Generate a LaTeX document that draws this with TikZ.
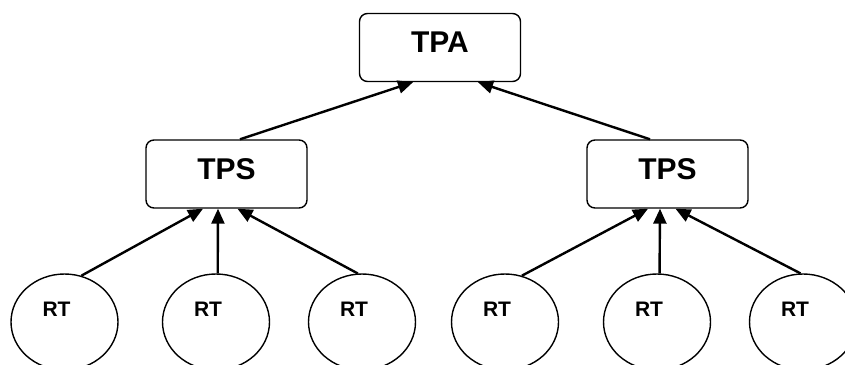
\documentclass[tikz,border=0pt]{standalone}
\usepackage{fontspec}
\setmainfont{Liberation Sans}
\usetikzlibrary{arrows.meta,shapes.geometric}

\begin{document}
\begin{tikzpicture}[x=1pt,y=1pt,
  box/.style={draw,line width=1.4pt,rounded corners=8pt,minimum width=161pt,
    minimum height=68pt,text depth=10pt,font=\fontsize{30}{30}\selectfont\bfseries},
  rt/.style={draw,ellipse,line width=1.4pt,minimum width=107pt,minimum height=96pt,
    inner sep=0pt,
    label={[font=\fontsize{21}{21}\selectfont\bfseries,shift={(-8pt,13pt)}]center:RT}},
  link/.style={-{Triangle[length=15pt,width=13pt]},line width=2.4pt}]
  \useasboundingbox (0,0) rectangle (845,-364);
  \clip (0,0) rectangle (845,-364);
  \node[box] (tpa) at (440,-47.5) {TPA};
  \node[box] (tpsL) at (226.5,-174) {TPS};
  \node[box] (tpsR) at (667.5,-174) {TPS};
  \node[rt] (rt1) at (64.5,-322) {};
  \node[rt] (rt2) at (216,-322) {};
  \node[rt] (rt3) at (362,-322) {};
  \node[rt] (rt4) at (505,-322) {};
  \node[rt] (rt5) at (657,-322) {};
  \node[rt] (rt6) at (803,-322) {};
  % second level up to the root
  \draw[link] ([xshift=13.5pt]tpsL.north) -- ([xshift=-27pt]tpa.south);
  \draw[link] ([xshift=-17.5pt]tpsR.north) -- ([xshift=38pt]tpa.south);
  % leaves up to their TPS
  \draw[link] (rt1.70) -- ([xshift=-23.5pt]tpsL.south);
  \draw[link] (rt2.88) -- ([xshift=-8.5pt]tpsL.south);
  \draw[link] (rt3.95) -- ([xshift=11pt]tpsL.south);
  \draw[link] (rt4.70) -- ([xshift=-19.5pt]tpsR.south);
  \draw[link] (rt5.87) -- ([xshift=-7.5pt]tpsR.south);
  \draw[link] (rt6.93) -- ([xshift=8pt]tpsR.south);
\end{tikzpicture}
\end{document}
